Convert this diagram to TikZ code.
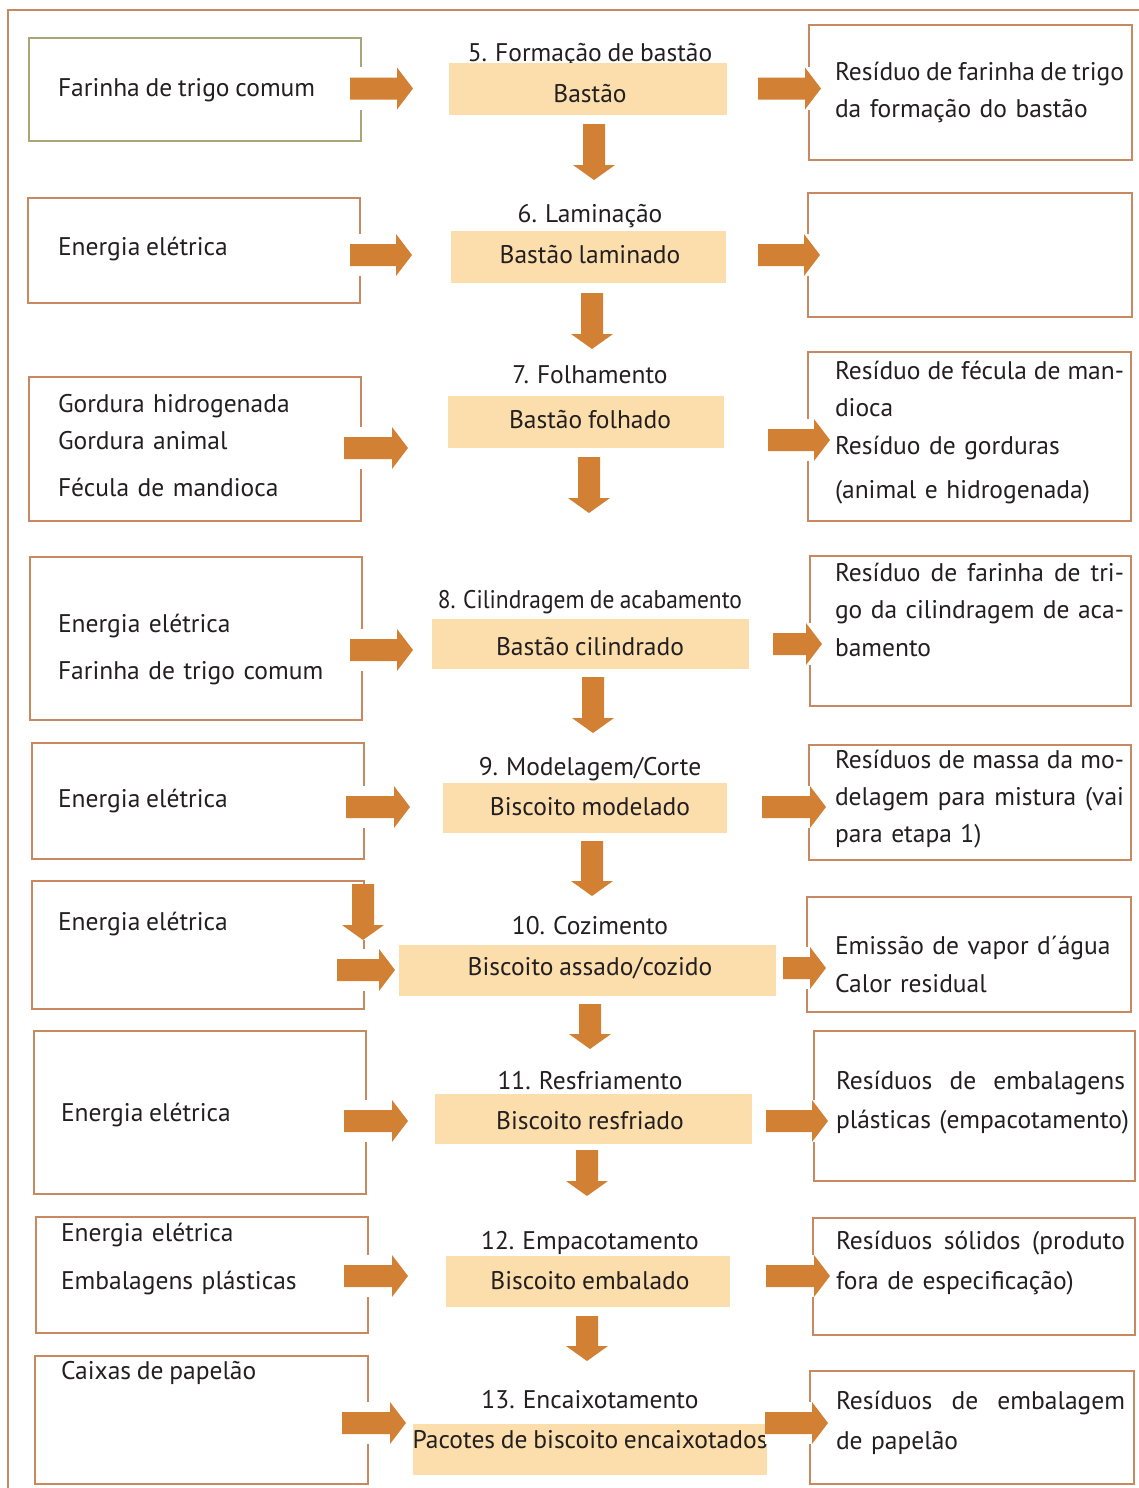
\documentclass[tikz,border=0pt]{standalone}
\usepackage{fontspec}
\setmainfont[WordSpace=0.85]{PT Sans}
\usetikzlibrary{calc}

\definecolor{framec}{RGB}{200,136,96}
\definecolor{olivec}{RGB}{168,166,120}
\definecolor{arrowc}{RGB}{209,128,52}
\definecolor{stepfill}{RGB}{252,222,172}
\definecolor{ink}{RGB}{35,31,32}

% rectangle node given by its two corners
\newcommand\cornerbox[6]{%
  \node[#1, anchor=north west, minimum width={#5-#3}, minimum height={#6-#4}] (#2) at (#3,#4) {};}
% block arrow pointing right, from tail coordinate to tip coordinate
\newcommand\harr[2]{%
  \fill[white] ($(#1)+(0,-21)$) rectangle ($(#2)+(0,21)$);
  \fill[arrowc] ($(#1)+(0,-11)$) -- ($(#2)+(-16,-11)$) -- ($(#2)+(-16,-21)$) -- (#2)
     -- ($(#2)+(-16,21)$) -- ($(#2)+(-16,11)$) -- ($(#1)+(0,11)$) -- cycle;}
% block arrow pointing down
\newcommand\varr[2]{%
  \fill[white] ($(#1)+(-21,0)$) rectangle ($(#2)+(21,0)$);
  \fill[arrowc] ($(#1)+(-11,0)$) -- ($(#2)+(-11,-15)$) -- ($(#2)+(-21,-15)$) -- (#2)
     -- ($(#2)+(21,-15)$) -- ($(#2)+(11,-15)$) -- ($(#1)+(11,0)$) -- cycle;}
% a line spread (or squeezed) over the full text column
\newcommand\jline[1]{\makebox[289pt][s]{\spaceskip=5.9pt plus 1fil minus 3.2pt #1}}

\begin{document}
\begin{tikzpicture}[x=1pt,y=-1pt,
  inbox/.style={draw=framec, line width=2.6pt, inner sep=0pt, outer sep=0pt},
  firstbox/.style={draw=olivec, line width=2.6pt, inner sep=0pt, outer sep=0pt},
  stepbox/.style={fill=stepfill, inner sep=0pt, outer sep=0pt},
  word/.style={font=\fontsize{25.5}{37}\selectfont, text=ink, inner sep=0pt, outer sep=0pt},
  line/.style={word, anchor=base west},
  block/.style={word, anchor=north west, align=left, text width=#1},
  block/.default=320pt,
  steplabel/.style={word, anchor=base},
]
\useasboundingbox (0,0) rectangle (1138,1488);

% outer frame (top and left sides)
\draw[framec, line width=2.6pt] (8,1490) -- (8,10) -- (1140,10);

% ---- input boxes
\cornerbox{firstbox}{in5}{29}{38}{361}{141}
\cornerbox{inbox}{in6}{28}{198}{360}{303}
\cornerbox{inbox}{in7}{29}{377}{361}{521}
\cornerbox{inbox}{in8}{30}{557}{362}{720}
\cornerbox{inbox}{in9}{32}{743}{364}{859}
\cornerbox{inbox}{in10}{32}{881}{364}{1009}
\cornerbox{inbox}{in11}{34}{1031}{366}{1194}
\cornerbox{inbox}{in12}{36}{1217}{368}{1333}
\cornerbox{inbox}{in13}{35}{1356}{368}{1484}

% ---- output boxes
\cornerbox{inbox}{out5}{809}{25}{1132}{160}
\cornerbox{inbox}{out6}{808}{193}{1132}{317}
\cornerbox{inbox}{out7}{808}{352}{1131}{521}
\cornerbox{inbox}{out8}{810}{556}{1131}{706}
\cornerbox{inbox}{out9}{809}{745}{1131}{860}
\cornerbox{inbox}{out10}{807}{897}{1131}{1012}
\cornerbox{inbox}{out11}{814}{1031}{1135}{1181}
\cornerbox{inbox}{out12}{813}{1218}{1135}{1335}
\cornerbox{inbox}{out13}{810}{1371}{1134}{1484}

% ---- step titles
\node[steplabel] (l5) at (590,62) {5. Formação de bastão};
\node[steplabel] (l6) at (590,222) {6. Laminação};
\node[steplabel] (l7) at (590,383) {7. Folhamento};
\node[steplabel] (l8) at (590,608) {\scalebox{0.92}[1]{8. Cilindragem de acabamento}};
\node[steplabel] (l9) at (590,775) {9. Modelagem/Corte};
\node[steplabel] (l10) at (590,934) {10. Cozimento};
\node[steplabel] (l11) at (590,1089) {11. Resfriamento};
\node[steplabel] (l12) at (590,1249) {12. Empacotamento};
\node[steplabel] (l13) at (590,1408) {13. Encaixotamento};

% ---- product boxes
\cornerbox{stepbox}{s5}{449}{63}{727}{115}
\cornerbox{stepbox}{s6}{451}{231}{726}{283}
\cornerbox{stepbox}{s7}{448}{396}{724}{448}
\cornerbox{stepbox}{s8}{432}{619}{749}{669}
\cornerbox{stepbox}{s9}{443}{783}{727}{833}
\cornerbox{stepbox}{s10}{399}{945}{776}{996}
\cornerbox{stepbox}{s11}{435}{1094}{752}{1144}
\cornerbox{stepbox}{s12}{446}{1256}{730}{1307}
\cornerbox{stepbox}{s13}{413}{1424}{767}{1475}

\node[steplabel] (p5) at (590,102) {Bastão};
\node[steplabel] (p6) at (590,263) {Bastão laminado};
\node[steplabel] (p7) at (590,428) {Bastão folhado};
\node[steplabel] (p8) at (590,655) {Bastão cilindrado};
\node[steplabel] (p9) at (590,815) {Biscoito modelado};
\node[steplabel] (p10) at (590,975) {Biscoito assado/cozido};
\node[steplabel] (p11) at (590,1129) {Biscoito resfriado};
\node[steplabel] (p12) at (590,1289) {Biscoito embalado};
\node[steplabel] (p13) at (590,1448) {Pacotes de biscoito encaixotados};

% ---- input texts
\node[line] (t5) at (58,96) {Farinha de trigo comum};
\node[line] (t6) at (58,255) {Energia elétrica};
\node[block] (t7) at (58,{412-25.9}) {\strut Gordura hidrogenada\\Gordura animal\\[10pt]Fécula de mandioca};
\node[block] (t8) at (58,{632-25.9}) {\strut Energia elétrica\\[10pt]Farinha de trigo comum};
\node[line] (t9) at (58,807) {Energia elétrica};
\node[line] (t10) at (58,930) {Energia elétrica};
\node[line] (t11) at (61,1121) {Energia elétrica};
\node[block] (t12) at (61,{1241-25.9}) {\strut Energia elétrica\\[11pt]Embalagens plásticas};
\node[line] (t13) at (61,1379) {Caixas de papelão};

% ---- output texts
\node[block] (r5) at (835,{81-25.9}) {\strut\jline{Resíduo de farinha de trigo}\\da formação do bastão};
\node[block] (r7) at (835,{379-25.9}) {\strut\jline{Resíduo de fécula de man-}\\dioca\\[1pt]Resíduo de gorduras\\[7pt](animal e hidrogenada)};
\node[block] (r8) at (835,{581-25.9}) {\strut\jline{Resíduo de farinha de tri-}\\\jline{go da cilindragem de aca-}\\[1pt]bamento};
\node[block] (r9) at (835,{768-25.9}) {\strut\jline{Resíduos de massa da mo-}\\\jline{delagem para mistura (vai}\\para etapa 1)};
\node[block] (r10) at (835,{954-25.9}) {\strut Emissão de vapor d´água\\[1pt]Calor residual};
\node[block] (r11) at (836,{1089-25.9}) {\strut\jline{Resíduos de embalagens}\\[2pt]plásticas (empacotamento)};
\node[block] (r12) at (836,{1249-25.9}) {\strut\jline{Resíduos sólidos (produto}\\[3pt]fora de especificação)};
\node[block] (r13) at (836,{1409-25.9}) {\strut\jline{Resíduos de embalagem}\\[3pt]de papelão};

% ---- arrow end points
\coordinate (a5i) at (350,88.5);  \coordinate (b5i) at (413,88.5);
\coordinate (a5o) at (758,88.5);  \coordinate (b5o) at (821,88.5);
\coordinate (a5d) at (594,124);   \coordinate (b5d) at (594,180);
\coordinate (a6i) at (350,255);   \coordinate (b6i) at (412,255);
\coordinate (a6o) at (758,255);   \coordinate (b6o) at (820,255);
\coordinate (a6d) at (592,293);   \coordinate (b6d) at (592,349);
\coordinate (a7i) at (344,448);   \coordinate (b7i) at (408,448);
\coordinate (a7o) at (768,440);   \coordinate (b7o) at (830,440);
\coordinate (a7d) at (589,457);   \coordinate (b7d) at (589,513);
\coordinate (a8i) at (350,650);   \coordinate (b8i) at (413,650);
\coordinate (a8o) at (773,644);   \coordinate (b8o) at (822,644);
\coordinate (a8d) at (593,677);   \coordinate (b8d) at (593,733);
\coordinate (a9i) at (346,807);   \coordinate (b9i) at (410,807);
\coordinate (a9o) at (762,807);   \coordinate (b9o) at (826,807);
\coordinate (a9d) at (592,841);   \coordinate (b9d) at (592,896);
\coordinate (a10v) at (363,884);  \coordinate (b10v) at (363,940);
\coordinate (a10i) at (337,970);  \coordinate (b10i) at (395,970);
\coordinate (a10o) at (783,968);  \coordinate (b10o) at (826,968);
\coordinate (a10d) at (590,1004); \coordinate (b10d) at (590,1049);
\coordinate (a11i) at (344,1121); \coordinate (b11i) at (408,1121);
\coordinate (a11o) at (766,1121); \coordinate (b11o) at (828,1121);
\coordinate (a11d) at (587,1150); \coordinate (b11d) at (587,1196);
\coordinate (a12i) at (344,1276); \coordinate (b12i) at (408,1276);
\coordinate (a12o) at (766,1276); \coordinate (b12o) at (830,1276);
\coordinate (a12d) at (587,1316); \coordinate (b12d) at (587,1361);
\coordinate (a13i) at (342,1423); \coordinate (b13i) at (406,1423);
\coordinate (a13o) at (765,1423); \coordinate (b13o) at (828,1423);

% ---- arrows
\harr{a5i}{b5i} \harr{a5o}{b5o} \varr{a5d}{b5d}
\harr{a6i}{b6i} \harr{a6o}{b6o} \varr{a6d}{b6d}
\harr{a7i}{b7i} \harr{a7o}{b7o} \varr{a7d}{b7d}
\harr{a8i}{b8i} \harr{a8o}{b8o} \varr{a8d}{b8d}
\harr{a9i}{b9i} \harr{a9o}{b9o} \varr{a9d}{b9d}
\varr{a10v}{b10v}
\harr{a10i}{b10i} \harr{a10o}{b10o} \varr{a10d}{b10d}
\harr{a11i}{b11i} \harr{a11o}{b11o} \varr{a11d}{b11d}
\harr{a12i}{b12i} \harr{a12o}{b12o} \varr{a12d}{b12d}
\harr{a13i}{b13i} \harr{a13o}{b13o}
\end{tikzpicture}
\end{document}
